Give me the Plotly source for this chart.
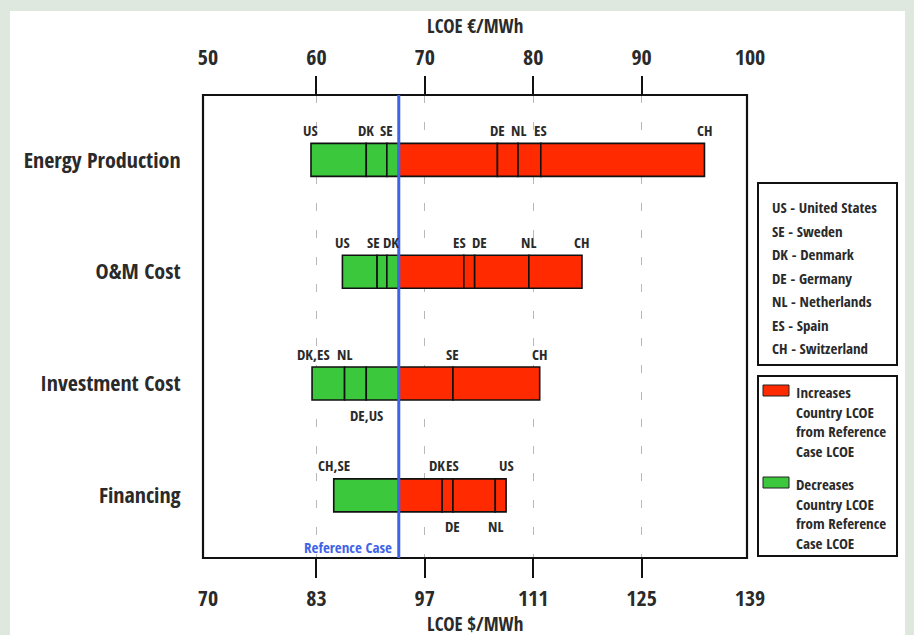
import plotly.graph_objects as go

# ---------------- data ----------------
categories = ["Energy Production", "O&M Cost", "Investment Cost", "Financing"]
reference_lcoe_eur = 67.6

eur_ticks = [50, 60, 70, 80, 90, 100]
usd_tick_labels = ["70", "83", "97", "111", "125", "139"]
inner_ticks = [60, 70, 80, 90]

energy_labels = ["US", "DK", "SE", "DE", "NL", "ES", "CH"]
energy_values = [59.5, 64.6, 66.5, 76.7, 78.6, 80.7, 95.8]
energy_sides = ["above"] * 7

om_labels = ["US", "SE", "DK", "ES", "DE", "NL", "CH"]
om_values = [62.4, 65.6, 66.5, 73.6, 74.6, 79.6, 84.5]
om_sides = ["above"] * 7

investment_labels = ["DK,ES", "NL", "DE,US", "SE", "CH"]
investment_values = [59.6, 62.6, 64.6, 72.6, 80.6]
investment_sides = ["above", "above", "below", "above", "above"]

financing_labels = ["CH,SE", "DK", "ES", "DE", "NL", "US"]
financing_values = [61.6, 71.6, 72.6, 72.6, 76.5, 77.5]
financing_sides = ["above", "above", "above", "below", "below", "above"]

country_codes = ["US", "SE", "DK", "DE", "NL", "ES", "CH"]
country_names = ["United States", "Sweden", "Denmark", "Germany", "Netherlands", "Spain", "Switzerland"]

# ---------------- styling ----------------
FONT = "Open Sans Condensed, Roboto Condensed, DejaVu Sans Condensed, sans-serif"
TXT = "#2a2a2a"
GREEN = "#3cc83c"
RED = "#ff2a00"
BLUE = "#3f63e6"
W, H = 914, 635
L, R, T, B = 203, 755, 95, 558     # plot area (slightly wider than the drawn frame)
FRAME_R = 747                       # right edge of the drawn frame


def px_x(px):
    return (px - L) / (R - L)


def px_y(py):
    return (B - py) / (B - T)


series = [
    (categories[0], energy_labels, energy_values, energy_sides),
    (categories[1], om_labels, om_values, om_sides),
    (categories[2], investment_labels, investment_values, investment_sides),
    (categories[3], financing_labels, financing_values, financing_sides),
]

green = {"y": [], "base": [], "x": []}
red = {"y": [], "base": [], "x": []}
for cat, labs, vals, sides in series:
    bounds = sorted(set(vals + [reference_lcoe_eur]))
    for a, b in zip(bounds[:-1], bounds[1:]):
        tgt = green if b <= reference_lcoe_eur else red
        tgt["y"].append(cat)
        tgt["base"].append(a)
        tgt["x"].append(b - a)

fig = go.Figure()
for seg, col in ((green, GREEN), (red, RED)):
    fig.add_trace(go.Bar(
        orientation="h", y=seg["y"], x=seg["x"], base=seg["base"],
        width=0.295, marker=dict(color=col, line=dict(color="#111", width=1.6)),
        showlegend=False, hoverinfo="skip", xaxis="x", yaxis="y",
    ))

annotations = []
nudges = {("O&M Cost", "SE"): -4, ("O&M Cost", "DK"): 4, ("O&M Cost", "ES"): -4,
          ("O&M Cost", "DE"): 5, ("Financing", "DK"): -5, ("Investment Cost", "DK,ES"): 1}
for cat, labs, vals, sides in series:
    for lab, v, s in zip(labs, vals, sides):
        annotations.append(dict(
            x=v, y=cat, xref="x", yref="y", text=lab, showarrow=False,
            xanchor="center", yanchor="middle",
            yshift=30 if s == "above" else -31, xshift=nudges.get((cat, lab), 0),
            font=dict(family=FONT, size=15, color=TXT, weight="bold"),
        ))

# reference case label
annotations.append(dict(
    x=reference_lcoe_eur, xref="x", y=px_y(547), yref="paper", text="Reference Case",
    xanchor="right", yanchor="middle", xshift=-5, showarrow=False,
    font=dict(family=FONT, size=15, color=BLUE, weight="bold"),
))

# axis titles
mid = px_x((L + FRAME_R) / 2)
annotations.append(dict(x=mid, xref="paper", y=px_y(26), yref="paper", text="LCOE €/MWh",
                        xanchor="center", yanchor="middle", showarrow=False,
                        font=dict(family=FONT, size=19, color=TXT, weight="bold")))
annotations.append(dict(x=mid, xref="paper", y=px_y(624), yref="paper", text="LCOE $/MWh",
                        xanchor="center", yanchor="middle", showarrow=False,
                        font=dict(family=FONT, size=19, color=TXT, weight="bold")))

# legend box 1 text
for i, (c, n) in enumerate(zip(country_codes, country_names)):
    annotations.append(dict(
        x=px_x(770), xref="paper", y=px_y(207 + i * 23.5), yref="paper",
        text=f"{c} - {n}", xanchor="left", yanchor="middle", showarrow=False,
        font=dict(family=FONT, size=15, color=TXT, weight="bold"),
    ))

legend_texts = ["Increases<br>Country LCOE<br>from Reference<br>Case LCOE",
                "Decreases<br>Country LCOE<br>from Reference<br>Case LCOE"]
for txt, ytop in zip(legend_texts, [380, 472]):
    annotations.append(dict(
        x=px_x(794), xref="paper", y=px_y(ytop), yref="paper", text=txt,
        xanchor="left", yanchor="top", align="left", showarrow=False,
        font=dict(family=FONT, size=15, color=TXT, weight="bold"),
    ))

shapes = [
    # white panel
    dict(type="rect", xref="paper", yref="paper", x0=px_x(10), x1=px_x(905),
         y0=px_y(640), y1=px_y(11), fillcolor="white", line=dict(width=0), layer="below"),
    # plot frame
    dict(type="rect", xref="paper", yref="paper", x0=0, x1=px_x(FRAME_R), y0=0, y1=1,
         line=dict(color="#111", width=2.2), layer="above"),
    # reference line
    dict(type="line", xref="x", yref="paper", x0=reference_lcoe_eur, x1=reference_lcoe_eur,
         y0=0, y1=1, line=dict(color=BLUE, width=3), layer="above"),
    # legend boxes
    dict(type="rect", xref="paper", yref="paper", x0=px_x(758), x1=px_x(897),
         y0=px_y(365), y1=px_y(183), line=dict(color="#111", width=2)),
    dict(type="rect", xref="paper", yref="paper", x0=px_x(758), x1=px_x(897),
         y0=px_y(556), y1=px_y(376), line=dict(color="#111", width=2)),
    dict(type="rect", xref="paper", yref="paper", x0=px_x(763), x1=px_x(789),
         y0=px_y(396), y1=px_y(385), fillcolor=RED, line=dict(color="#222", width=1)),
    dict(type="rect", xref="paper", yref="paper", x0=px_x(763), x1=px_x(789),
         y0=px_y(488), y1=px_y(477), fillcolor=GREEN, line=dict(color="#222", width=1)),
]

# 50 EUR sits at x=208 px, 10.84 px per EUR
xr = [50 - (208 - L) / 10.84, 50 + (R - 208) / 10.84]
tickfont = dict(family=FONT, size=22, color=TXT, weight="bold")
fig.update_layout(
    width=W, height=H,
    margin=dict(l=L, r=W - R, t=T, b=H - B, autoexpand=False),
    paper_bgcolor="#dfe8de", plot_bgcolor="rgba(0,0,0,0)",
    barmode="overlay", showlegend=False,
    xaxis=dict(range=xr, tickmode="array", tickvals=eur_ticks, ticktext=usd_tick_labels,
               ticks="outside", ticklen=21, tickcolor="rgba(0,0,0,0)", tickfont=tickfont,
               showgrid=False, zeroline=False, showline=False, fixedrange=True, automargin=False),
    xaxis2=dict(range=xr, overlaying="x", side="top", tickmode="array", tickvals=eur_ticks,
                ticktext=[str(v) for v in eur_ticks], ticks="outside", ticklen=20,
                tickcolor="rgba(0,0,0,0)", tickfont=tickfont, showgrid=False,
                zeroline=False, showline=False, automargin=False),
    xaxis3=dict(range=xr, overlaying="x", side="bottom", tickmode="array", tickvals=inner_ticks,
                ticks="outside", ticklen=19, tickwidth=2, tickcolor="#111", showticklabels=False,
                showgrid=True, gridcolor="#b8b8b8", gridwidth=1, griddash="8px,19px",
                zeroline=False, showline=False, automargin=False),
    xaxis4=dict(range=xr, overlaying="x", side="top", tickmode="array", tickvals=inner_ticks,
                ticks="outside", ticklen=18, tickwidth=2, tickcolor="#111", showticklabels=False,
                showgrid=False, zeroline=False, showline=False, automargin=False),
    yaxis=dict(type="category", categoryorder="array", categoryarray=categories,
               range=[3.56, -0.58], ticks="outside", ticklen=17, tickcolor="rgba(0,0,0,0)",
               tickfont=dict(family=FONT, size=22, color=TXT, weight="bold"),
               showgrid=False, zeroline=False, showline=False, automargin=False),
    annotations=annotations, shapes=shapes,
)
# invisible traces to activate the extra axes
for ax in ("x2", "x3", "x4"):
    fig.add_trace(go.Scatter(x=[xr[0]], y=[categories[0]], xaxis=ax, yaxis="y",
                             mode="markers", marker=dict(opacity=0), hoverinfo="skip",
                             showlegend=False))

fig.write_html("out.html", config={"displayModeBar": False},
               post_script="document.body.style.margin='0px';")
